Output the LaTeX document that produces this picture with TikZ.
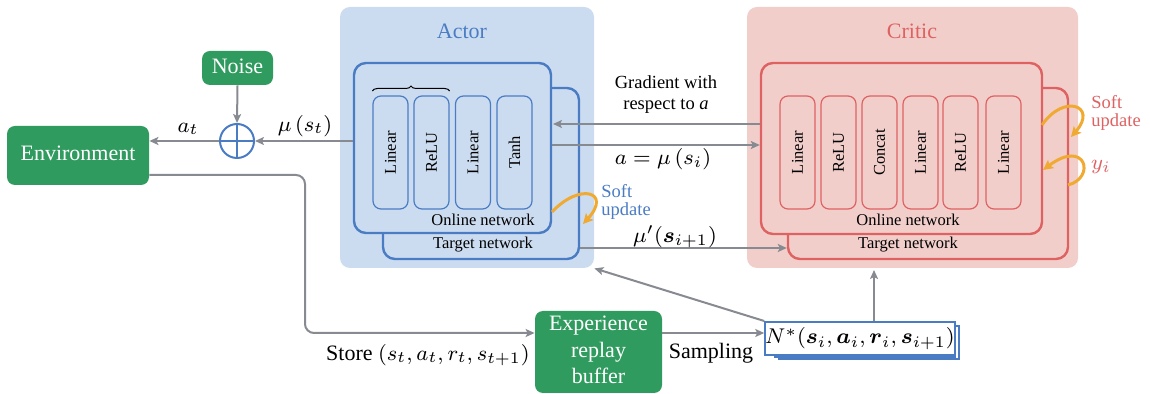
\documentclass[tikz,border=0pt]{standalone}
\usepackage{graphicx}
\usepackage[no-math]{fontspec}
\setmainfont{Liberation Serif}
\usetikzlibrary{arrows.meta,decorations.pathreplacing,calc}
\definecolor{cgreen}{RGB}{48,155,95}
\definecolor{cblue}{RGB}{74,124,196}
\definecolor{cbluebg}{RGB}{204,220,240}
\definecolor{credbg}{RGB}{242,206,203}
\definecolor{cred}{RGB}{222,98,98}
\definecolor{corange}{RGB}{240,170,50}
\definecolor{cgray}{RGB}{135,138,145}
\newcommand\fmid{\fontsize{8.25}{9.5}\selectfont}
\newcommand\tbig[1]{\scalebox{1.3333}{\fontsize{8.25}{9.94}\selectfont\begin{tabular}{@{}c@{}}#1\end{tabular}}}
\newcommand\tgrad[1]{\scalebox{1.1212}{\fontsize{8.25}{9.4}\selectfont\begin{tabular}{@{}c@{}}#1\end{tabular}}}
\newcommand\tsoft[1]{\scalebox{1.1212}{\fontsize{8.25}{7.6}\selectfont\begin{tabular}{@{}l@{}}#1\end{tabular}}}
\newcommand\bsym[1]{\mbox{\boldmath$#1$}}
\begin{document}
\begin{tikzpicture}[x=0.5pt,y=-0.5pt,
  gbox/.style={fill=cgreen, rounded corners=4pt, text=white, align=center, inner sep=0pt},
  bgbox/.style={rounded corners=5pt, inner sep=0pt},
  net/.style={draw, line width=1.2pt, rounded corners=6pt, inner sep=0pt},
  layer/.style={draw, line width=0.6pt, rounded corners=4pt, rotate=90, minimum width=56.5pt, minimum height=17.5pt, inner sep=0pt, font=\fmid},
  arr/.style={draw=cgray, line width=1pt, -{Stealth[length=4.5pt,width=4pt,inset=1pt]}},
  soft/.style={draw=corange, line width=1.5pt, -{Stealth[length=5pt,width=5pt,inset=1pt]}},
  lbl/.style={inner sep=0pt},
  nbox/.style={draw=cblue, fill=white, line width=1pt, minimum width=90pt, minimum height=16.5pt, inner sep=0pt}
]
\useasboundingbox (0,0) rectangle (1150,394);

% green boxes
\node[gbox, minimum width=71pt, minimum height=29.5pt] (env) at (78,155.5) {\tbig{Environment}};
\node[gbox, minimum width=35.5pt, minimum height=17pt] (noise) at (237.5,68) {\tbig{Noise}};
\node[gbox, minimum width=63.5pt, minimum height=41pt] (buf) at (598.5,352) {\tbig{Experience\\replay\\buffer}};

% plus
\node[circle, draw=cblue, line width=1pt, fill=white, minimum size=17pt, inner sep=0pt] (plus) at (237,141) {};
\draw[cblue, line width=1pt] (plus.north) -- (plus.south) (plus.west) -- (plus.east);

% Actor
\node[bgbox, fill=cbluebg, minimum width=127pt, minimum height=130.5pt] (abg) at (467,137.5) {};
\node[lbl, text=cblue] (atitle) at (462,33) {\tbig{Actor}};
\node[net, draw=cblue, fill=cbluebg, minimum width=98pt, minimum height=85.5pt] (atg) at (481,173.5) {};
\node[net, draw=cblue, fill=cbluebg, minimum width=98.5pt, minimum height=85pt] (aon) at (452.5,148) {};
\node[layer, draw=cblue] (al1) at (390.5,152.5) {Linear};
\node[layer, draw=cblue] (al2) at (431.5,152.5) {ReLU};
\node[layer, draw=cblue] (al3) at (473,152.5) {Linear};
\node[layer, draw=cblue] (al4) at (514.5,152.5) {Tanh};
\draw[decorate, decoration={brace, amplitude=2.5pt}, line width=0.5pt] (al1.north east |- 0,91) -- (al2.south east |- 0,91);
\node[inner sep=0pt, font=\fmid] (aonl) at (483,220) {Online network};
\node[inner sep=0pt, font=\fmid] (atgl) at (483,245) {Target network};

% Critic
\node[bgbox, fill=credbg, minimum width=165.5pt, minimum height=130.5pt] (cbg) at (912.5,137.5) {};
\node[lbl, text=cred] (ctitle) at (912,33) {\tbig{Critic}};
\node[net, draw=cred, fill=credbg, minimum width=140pt, minimum height=85.5pt] (ctg) at (928,173.5) {};
\node[net, draw=cred, fill=credbg, minimum width=140.5pt, minimum height=85.5pt] (con) at (901.5,148.5) {};
\node[layer, draw=cred] (cl1) at (797.5,152.5) {Linear};
\node[layer, draw=cred] (cl2) at (838.5,152.5) {ReLU};
\node[layer, draw=cred] (cl3) at (879.5,152.5) {Concat};
\node[layer, draw=cred] (cl4) at (920.5,152.5) {Linear};
\node[layer, draw=cred] (cl5) at (960.5,152.5) {ReLU};
\node[layer, draw=cred] (cl6) at (1003.5,152.5) {Linear};
\node[inner sep=0pt, font=\fmid] (conl) at (908,220) {Online network};
\node[inner sep=0pt, font=\fmid] (ctgl) at (908,245) {Target network};

% N* stack
\node[nbox] (n3) at (869,342.5) {};
\node[nbox] (n2) at (864.5,340.5) {};
\node[nbox] (nst) at (860,338.5) {\tbig{$N^*(\bsym{s}_i,\bsym{a}_i,\bsym{r}_i,\bsym{s}_{i+1})$}};

% arrows
\draw[arr] (noise.south) -- (plus.north);
\draw[arr] (plus.west) -- (plus.west -| env.east);
\node[lbl] (atl) at (188,127) {\tbig{$a_t$}};
\draw[arr] (aon.west |- plus) -- (plus.east);
\node[lbl] (mul) at (305,126) {\tbig{$\mu\left(s_t\right)$}};

\draw[arr] (con.west |- 0,124) -- (553,124);
\node[inner sep=0pt] (gradl) at (666,95) {\tgrad{Gradient with\\respect to \textit{a}}};
\draw[arr] (aon.east |- 0,145) -- (con.west |- 0,145);
\node[lbl] (al) at (663,159) {\tbig{$a=\mu\left(s_i\right)$}};
\draw[arr] (atg.east |- 0,248) -- (ctg.west |- 0,248);
\node[lbl] (mupl) at (675,237) {\tbig{$\mu'(\bsym{s}_{i+1})$}};

\draw[arr, rounded corners=4.5pt] (env.east |- 0,175) -| (305,333) -- (buf.west |- 0,333);
\node[lbl] (storel) at (428,355) {\tbig{Store $\left(s_t,a_t,r_t,s_{t+1}\right)$}};
\draw[arr] (buf.east |- 0,333) -- (nst.west |- 0,333);
\node[lbl] (sampl) at (711,353) {\tbig{Sampling}};
\draw[arr] (nst.north -| 874,0) -- (874,270);
\draw[arr] (nst.north west) -- (abg.south east);

% soft updates
\coordinate (as1) at (552,212);
\coordinate (as2) at (583,224);
\draw[soft] (as1) .. controls (580,182) and (612,192) .. (as2);
\node[inner sep=0pt, text=cblue, anchor=west] (asl) at (601,203) {\tsoft{Soft\\update}};

\coordinate (cs1) at (1042,125);
\coordinate (cs2) at (1071,137);
\draw[soft] (cs1) .. controls (1064,93) and (1098,106) .. (cs2);
\node[inner sep=0pt, text=cred, anchor=west] (csl) at (1091,114) {\tsoft{Soft\\update}};
\coordinate (cy1) at (1068,185);
\coordinate (cy2) at (1043,170);
\draw[soft] (cy1) .. controls (1096,178) and (1086,138) .. (cy2);
\node[lbl, text=cred] (yl) at (1101,164) {\tbig{$y_i$}};
\end{tikzpicture}
\end{document}
